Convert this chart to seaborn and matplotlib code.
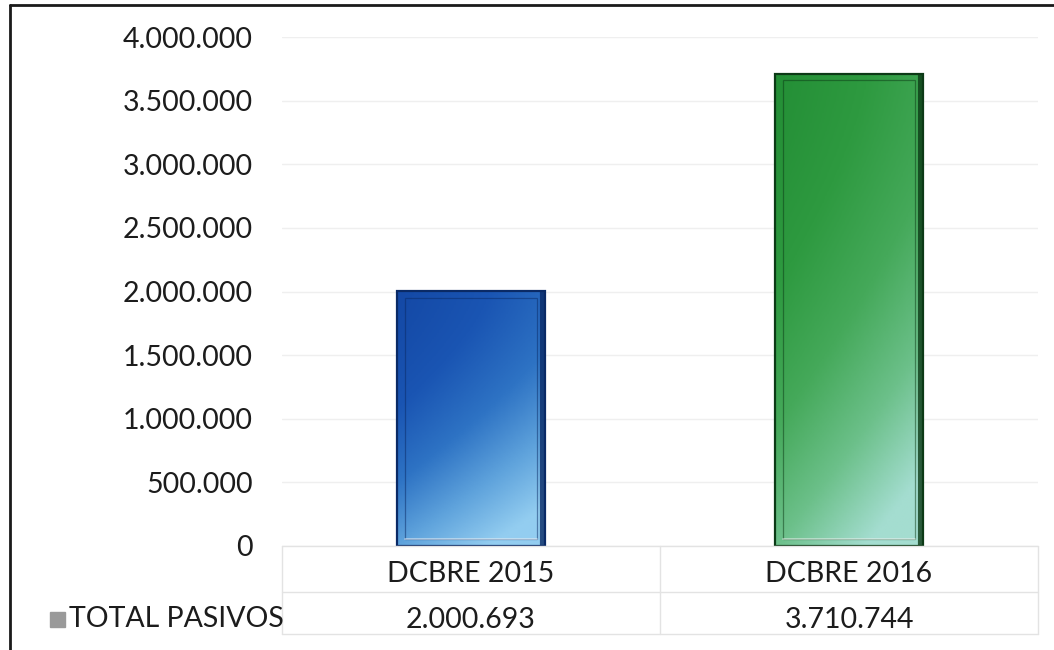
import numpy as np
import matplotlib
matplotlib.use("Agg")
import matplotlib.pyplot as plt
from matplotlib.colors import LinearSegmentedColormap
from matplotlib.patches import Rectangle
from matplotlib.lines import Line2D
import seaborn as sns
import pandas as pd

categories = ["DCBRE 2015", "DCBRE 2016"]
values = [2000693, 3710744]
series_name = "TOTAL PASIVOS"
y_ticks = [0, 500000, 1000000, 1500000, 2000000, 2500000, 3000000, 3500000, 4000000]


def fmt_es(v):
    return f"{int(round(v)):,}".replace(",", ".")


sns.set_theme(style="white")
plt.rcParams["font.family"] = ["Lato", "DejaVu Sans"]

W, H = 1054, 650
FS = 20.5
TXT = "#1c1c1c"
fig = plt.figure(figsize=(W / 100, H / 100), dpi=100)
fig.patch.set_facecolor("white")


def fx(px):
    return px / W


def fy(py):
    return 1 - py / H


ax = fig.add_axes([fx(282), fy(546), fx(1038) - fx(282), fy(37) - fy(546)])
df = pd.DataFrame({"cat": categories, "val": values})
sns.barplot(data=df, x="cat", y="val", hue="cat", palette=["#1d5bb5", "#2f9a45"],
            width=0.39, legend=False, ax=ax, saturation=1)

ax.set_ylim(0, 4000000)
ax.set_xlim(-0.5, 1.5)
ax.set_yticks(y_ticks)
ax.set_yticklabels([fmt_es(t) for t in y_ticks], fontsize=FS, color=TXT)
ax.tick_params(axis="y", length=0, pad=21)
ax.set_xticks([])
ax.set_xlabel("")
ax.set_ylabel("")
for s in ax.spines.values():
    s.set_visible(False)
ax.yaxis.grid(True, color="#efefef", linewidth=1)
ax.set_axisbelow(True)

# gradient fills (dark top-left to light bottom-right) with bevelled frame
grads = [
    ["#1449a6", "#1a55b3", "#2e73c4", "#5fa3dc", "#93cdf0"],
    ["#248f36", "#2e9a40", "#45a95a", "#6cc08a", "#a4ddd0"],
]
edges = ["#0a2a66", "#0c3a16"]
for patch, cols, ec in zip(ax.patches, grads, edges):
    x0, y0 = patch.get_x(), patch.get_y()
    w, h = patch.get_width(), patch.get_height()
    cmap = LinearSegmentedColormap.from_list("g", cols)
    xx, yy = np.meshgrid(np.linspace(0, 1, 60), np.linspace(0, 1, 200))
    z = np.clip(0.4 * xx + 0.75 * yy ** 1.4, 0, 1)
    im = ax.imshow(z, cmap=cmap, extent=[x0, x0 + w, y0, y0 + h], origin="upper",
                   aspect="auto", zorder=3, vmin=0, vmax=1)
    im.set_clip_path(patch)
    patch.set_facecolor("none")
    patch.set_edgecolor(ec)
    patch.set_linewidth(1.6)
    patch.set_zorder(4)
    inset_x = w * 0.055
    inset_y = 4000000 * 0.013
    ax.add_patch(Rectangle((x0 + inset_x, y0 + inset_y), w - 2 * inset_x, h - 2 * inset_y,
                           fill=False, edgecolor=ec, linewidth=0.9, alpha=0.5, zorder=5))
    # shaded right rim and light bottom bevel
    ax.plot([x0 + w - inset_x * 0.35, x0 + w - inset_x * 0.35], [y0, y0 + h],
            color=ec, linewidth=3, alpha=0.8, zorder=5, solid_capstyle="butt")
    ax.plot([x0 + inset_x, x0 + w - inset_x], [y0 + inset_y, y0 + inset_y],
            color="white", alpha=0.55, linewidth=1.2, zorder=5)
ax.set_xlim(-0.5, 1.5)
ax.set_ylim(0, 4000000)

# data table
tcol = "#e3e3e3"
for ypx in [546, 592, 634]:
    fig.add_artist(Line2D([fx(282), fx(1038)], [fy(ypx), fy(ypx)], color=tcol, lw=1))
for xpx in [282, 660, 1038]:
    fig.add_artist(Line2D([fx(xpx), fx(xpx)], [fy(546), fy(634)], color=tcol, lw=1))

for i, (c, v) in enumerate(zip(categories, values)):
    xc = ax.transData.transform((i, 0))[0] / W
    fig.text(xc, fy(582), c, ha="center", va="baseline", fontsize=FS, color=TXT)
    fig.text(xc, fy(627.5), fmt_es(v), ha="center", va="baseline", fontsize=FS, color=TXT)

fig.add_artist(Rectangle((fx(50), fy(627)), fx(15), fy(612) - fy(627), color="#9a9a9a"))
fig.text(fx(69), fy(627), series_name, ha="left", va="baseline", fontsize=FS, color=TXT)

# outer chart frame
fig.add_artist(Line2D([fx(10), fx(10)], [fy(5), 0], color="#1a1a1a", lw=2))
fig.add_artist(Line2D([fx(10), 1], [fy(5), fy(5)], color="#1a1a1a", lw=2))

fig.savefig("out.png", dpi=100, facecolor="white")
